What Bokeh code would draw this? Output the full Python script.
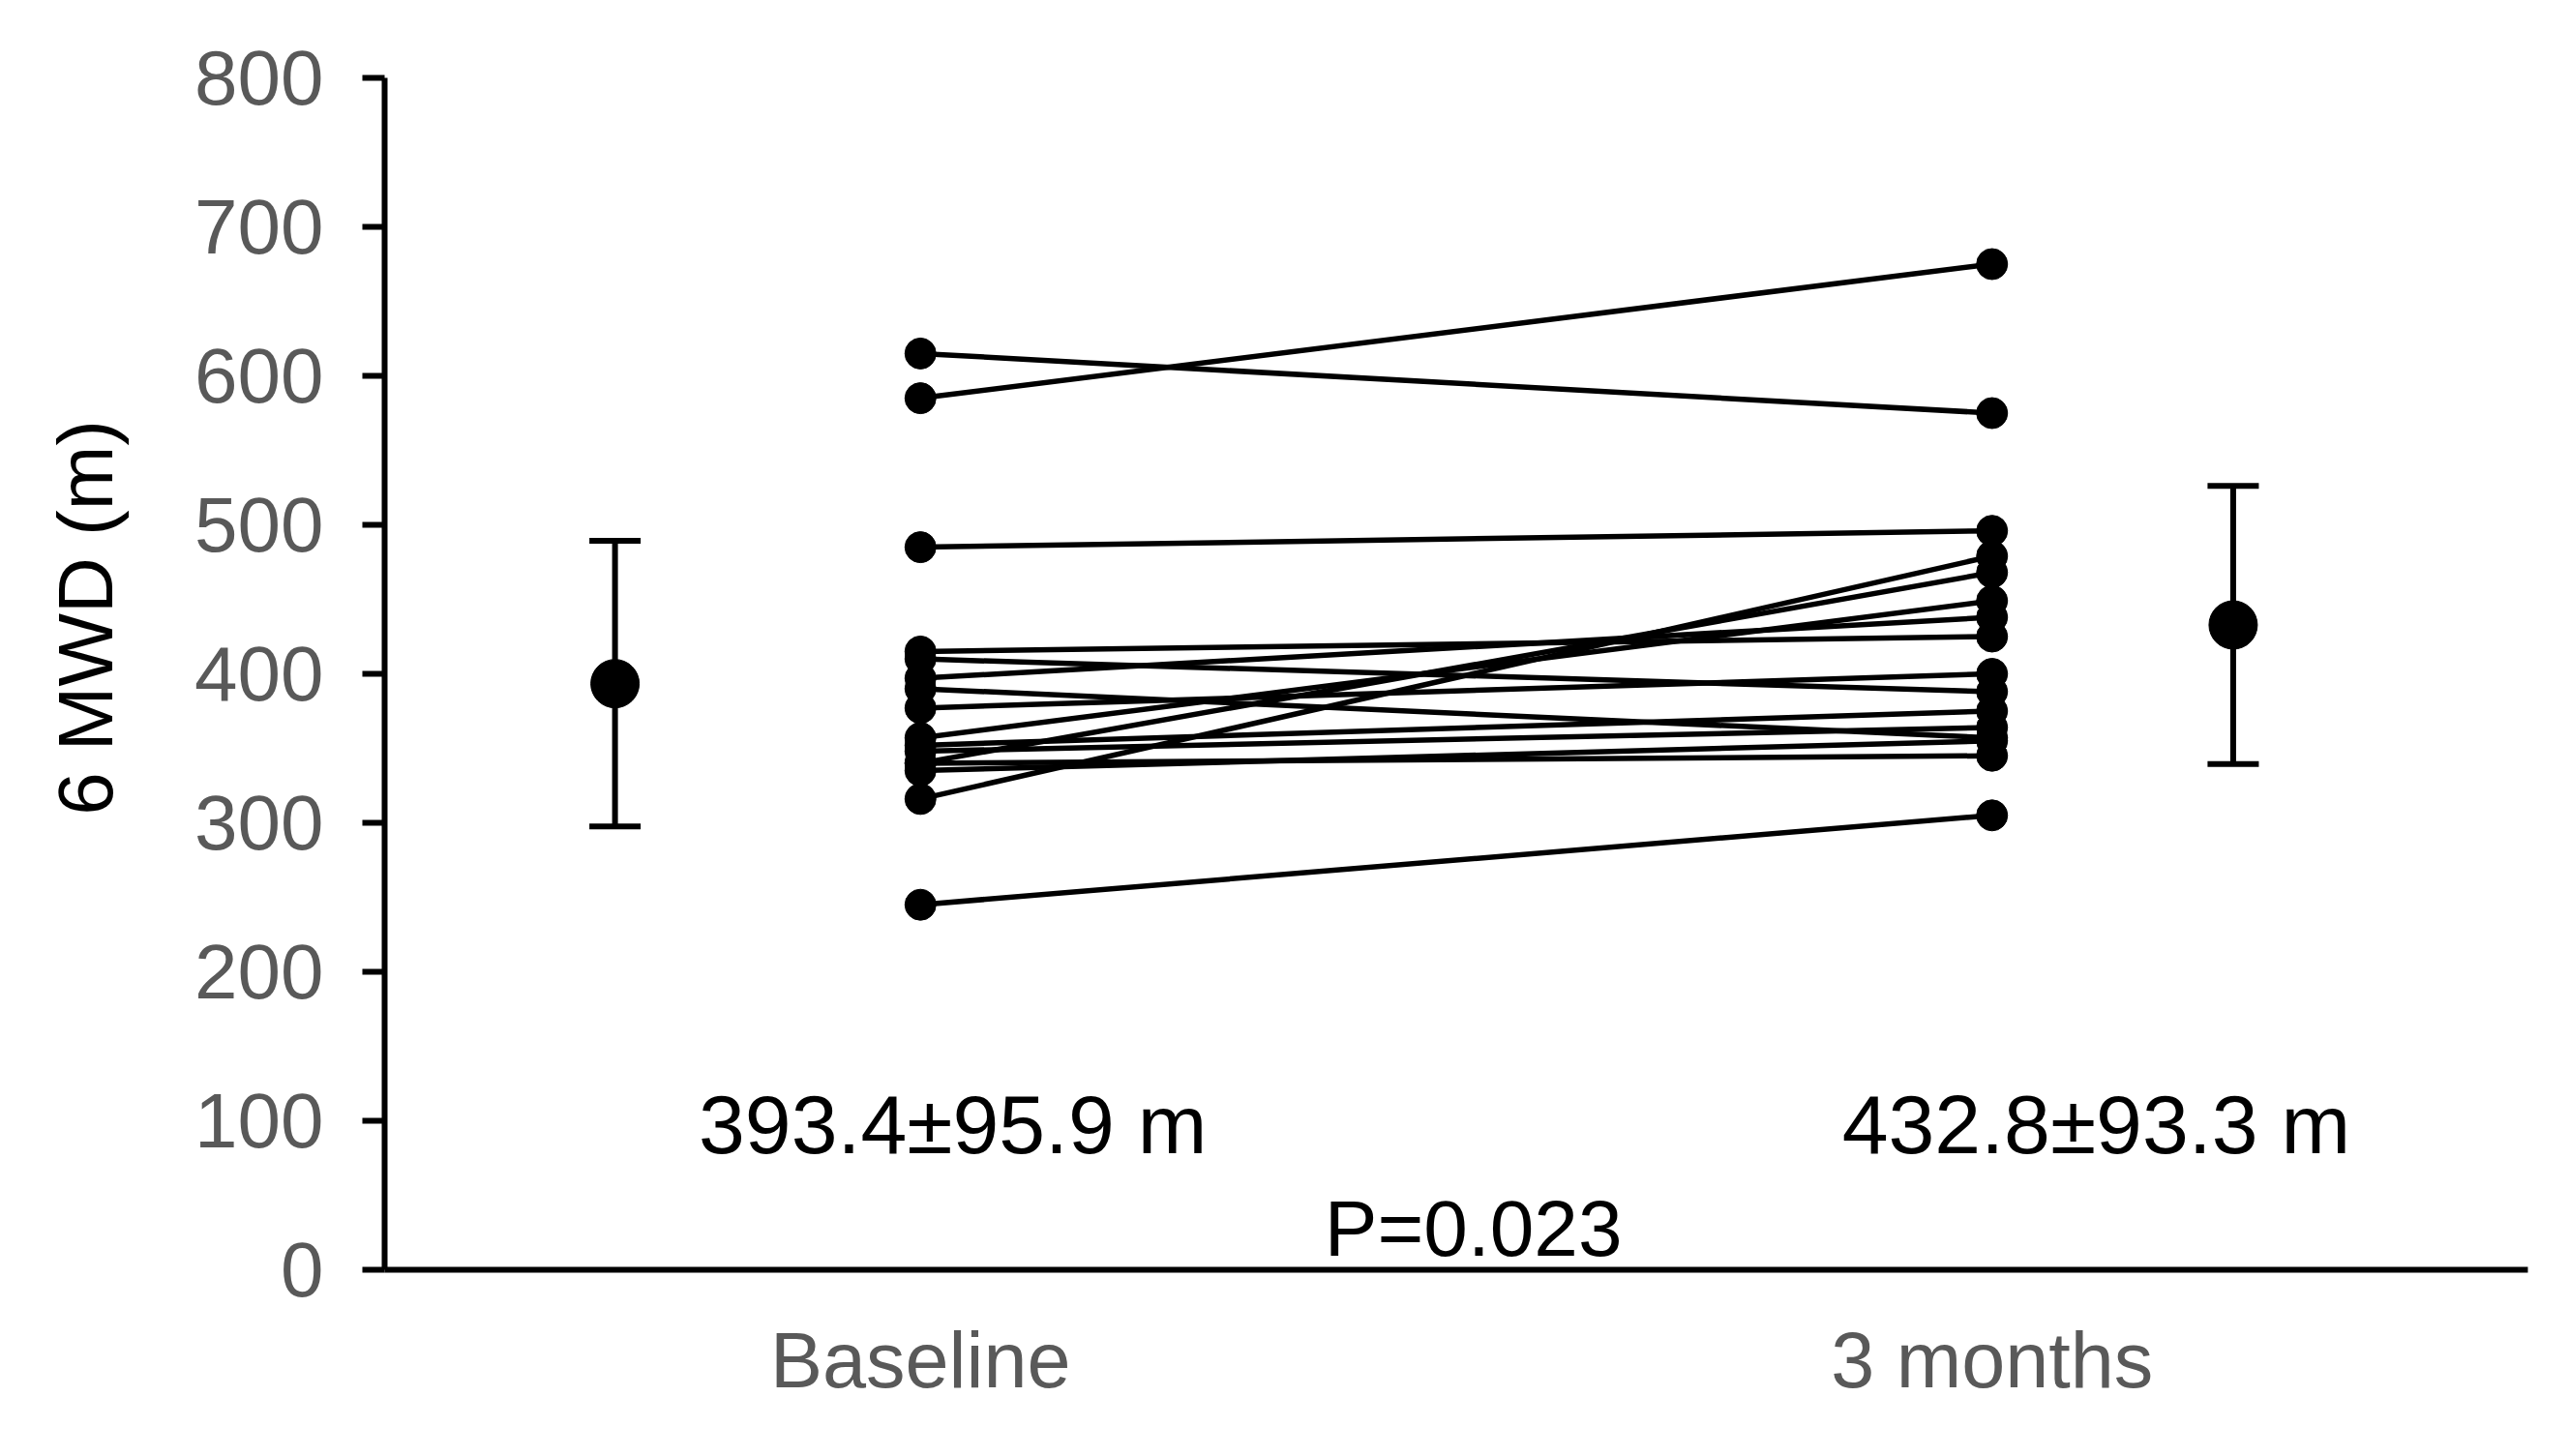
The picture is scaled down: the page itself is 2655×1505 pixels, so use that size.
from math import pi

from bokeh.embed import file_html
from bokeh.layouts import row
from bokeh.models import (ColumnDataSource, FixedTicker, Label, Range1d,
                          TeeHead, Whisker)
from bokeh.plotting import figure
from bokeh.resources import INLINE

# visit labels on the x axis
categories = ["Baseline", "3 months"]

# 6MWD of each patient (m), baseline and after 3 months, paired by index
baseline = [615, 585, 485, 415, 410, 397, 390, 377, 357, 352, 348, 340, 340, 335, 316, 245]
month3 = [575, 675, 496, 425, 388, 438, 357, 400, 449, 375, 364, 468, 345, 355, 479, 305]

# group mean and SD
means = [393.4, 432.8]
sds = [95.9, 93.3]
summary = ["393.4\u00b195.9 m", "432.8\u00b193.3 m"]
p_text = "P=0.023"
y_title = "6 MWD (m)"

y_ticks = [0, 100, 200, 300, 400, 500, 600, 700, 800]

FONT = "Liberation Sans"
H = 1486
LEFT_W = 190  # strip that carries the y title

p = figure(width=2636 - LEFT_W, height=H, output_backend="svg", toolbar_location=None,
           x_range=Range1d(0.5, 2.5), y_range=Range1d(0, 800),
           min_border_left=397 - LEFT_W, min_border_top=80, min_border_bottom=174,
           min_border_right=24)
p.outline_line_color = None
p.xgrid.grid_line_color = None
p.ygrid.grid_line_color = None

# paired lines and dots
pairs = ColumnDataSource(dict(x0=[1] * len(baseline), y0=baseline,
                              x1=[2] * len(month3), y1=month3))
p.segment(x0="x0", y0="y0", x1="x1", y1="y1", source=pairs,
          line_color="black", line_width=5.5)
p.scatter(x=[1] * len(baseline), y=baseline, size=32, color="black")
p.scatter(x=[2] * len(month3), y=month3, size=32, color="black")

# mean +/- SD beside each column
err = ColumnDataSource(dict(x=[0.715, 2.225], mean=means,
                            upper=[m + s for m, s in zip(means, sds)],
                            lower=[m - s for m, s in zip(means, sds)]))
whisk = Whisker(base="x", upper="upper", lower="lower", source=err,
                dimension="height", line_color="black", line_width=6,
                upper_head=TeeHead(size=53, line_width=6, line_color="black"),
                lower_head=TeeHead(size=53, line_width=6, line_color="black"))
p.add_layout(whisk)
p.scatter(x="x", y="mean", source=err, size=50, color="black")

# summary texts
for xx, txt in zip([0.793, 1.860], summary):
    p.add_layout(Label(x=xx, y=98, text=txt, text_font=FONT,
                       text_font_size="86px", text_color="black",
                       text_align="left", text_baseline="alphabetic"))
p.add_layout(Label(x=1.377, y=28, text=p_text, text_font=FONT,
                   text_font_size="82px", text_color="black",
                   text_align="left", text_baseline="alphabetic"))

# axes
p.xaxis.ticker = FixedTicker(ticks=[1, 2])
p.xaxis.major_label_overrides = {1: categories[0], 2: categories[1]}
p.xaxis.major_tick_line_color = None
p.xaxis.major_tick_out = 0
p.xaxis.major_tick_in = 0
p.xaxis.minor_tick_line_color = None
p.xaxis.major_label_standoff = 48
p.xaxis.major_label_text_font_size = "81px"
p.xaxis.axis_line_width = 6
p.xaxis.axis_line_color = "black"
p.xaxis.major_label_text_font = FONT
p.xaxis.major_label_text_color = "#595959"

p.yaxis.ticker = FixedTicker(ticks=y_ticks)
p.yaxis.minor_tick_line_color = None
p.yaxis.major_tick_out = 23
p.yaxis.major_tick_in = 0
p.yaxis.major_tick_line_width = 6
p.yaxis.major_tick_line_color = "black"
p.yaxis.major_label_standoff = 40
p.yaxis.major_label_text_font_size = "80px"
p.yaxis.axis_line_width = 6
p.yaxis.axis_line_color = "black"
p.yaxis.major_label_text_font = FONT
p.yaxis.major_label_text_color = "#595959"

# narrow strip on the left for the off-centre y title (pixel coordinates)
t = figure(width=LEFT_W, height=H, output_backend="svg", toolbar_location=None,
           x_range=Range1d(0, LEFT_W), y_range=Range1d(H, 0),
           min_border=0, x_axis_type=None, y_axis_type=None)
t.outline_line_color = None
t.grid.grid_line_color = None
t.add_layout(Label(x=88, y=673, text=y_title, angle=pi / 2,
                   text_align="center", text_baseline="alphabetic",
                   text_font=FONT, text_font_size="80px", text_color="black"))

layout = row(t, p, spacing=0)

open("out.html", "w").write(file_html(layout, INLINE))
